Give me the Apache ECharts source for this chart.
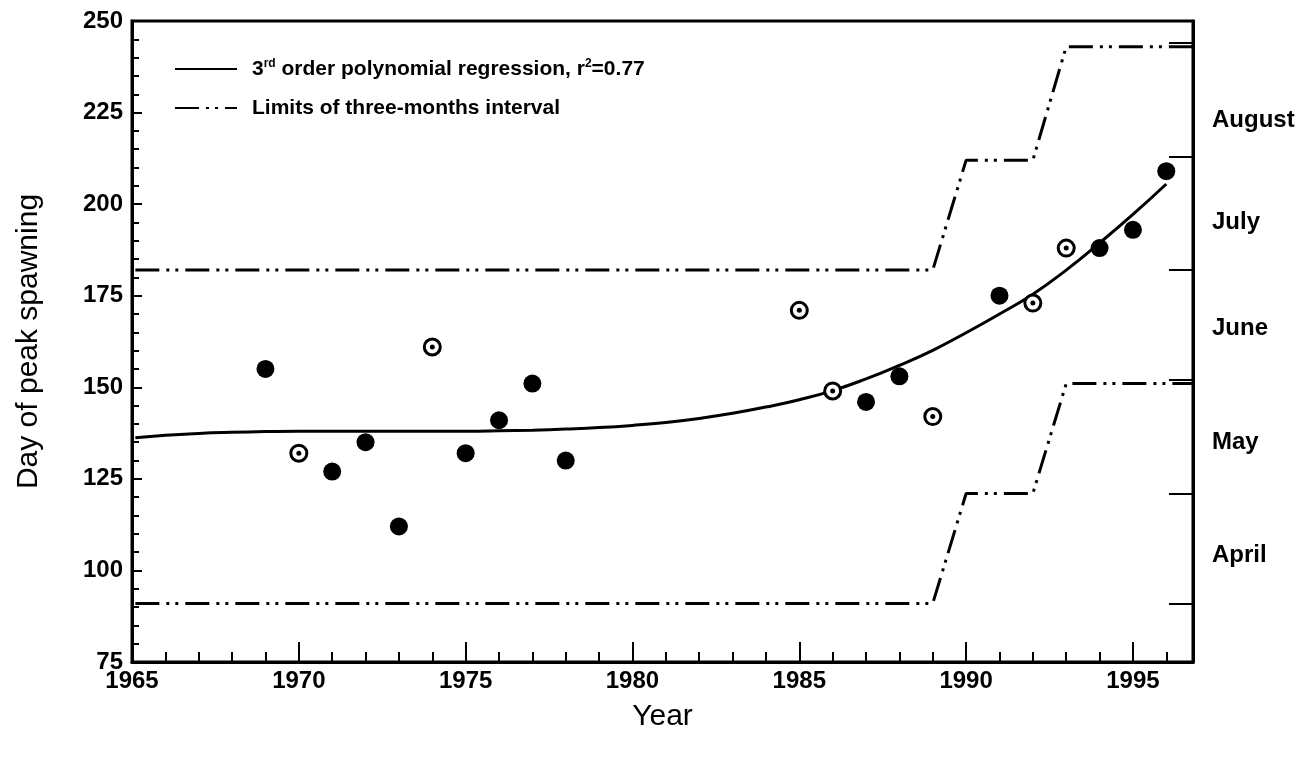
<!DOCTYPE html>
<html>
<head>
<meta charset="utf-8">
<script src="https://cdn.jsdelivr.net/npm/echarts@6.0.0/dist/echarts.min.js"></script>
<style>
  html, body { margin: 0; padding: 0; background: #fff; }
  #chart { width: 1315px; height: 760px; }
</style>
</head>
<body>
<div id="chart"></div>
<script>
// filled circles
const filledYears = [1969, 1971, 1972, 1973, 1975, 1976, 1977, 1978, 1987, 1988, 1991, 1994, 1995, 1996]
const filledDays = [155, 127, 135, 112, 132, 141, 151, 130, 146, 153, 175, 188, 193, 209]

// open circles (dotted centre)
const openYears = [1970, 1974, 1985, 1986, 1989, 1992, 1993]
const openDays = [132, 161, 171, 149, 142, 173, 188]

// regression curve
const fitYears = [1965.1, 1966, 1967, 1968, 1969, 1970, 1971, 1972, 1973, 1974, 1975, 1976, 1977, 1978, 1979, 1980,
  1981, 1982, 1983, 1984, 1985, 1986, 1987, 1988, 1989, 1990, 1991, 1992, 1993, 1994, 1995, 1996]
const fitDays = [136.2, 136.9, 137.4, 137.7, 137.9, 138.0, 138.0, 138.0, 138.0, 138.0, 138.0, 138.1, 138.3, 138.6, 139.0, 139.6,
  140.4, 141.5, 142.9, 144.6, 146.6, 149.1, 152.3, 156.0, 160.1, 164.9, 170.0, 175.4, 182.0, 189.4, 197.2, 205.5]

// three-months interval limits
const limitYears = [1965.1, 1989, 1990, 1992, 1993, 1996.8]
const upperDays = [182, 182, 212, 212, 243, 243]
const lowerDays = [91, 91, 121, 121, 151, 151]

// axis ticks
const majorYears = [1965, 1970, 1975, 1980, 1985, 1990, 1995]
const allYears = [1966, 1967, 1968, 1969, 1971, 1972, 1973, 1974, 1976, 1977, 1978, 1979, 1981, 1982, 1983, 1984,
  1986, 1987, 1988, 1989, 1991, 1992, 1993, 1994, 1996]
const monthStarts = [91, 121, 152, 182, 213, 244]
const monthNames = ['April', 'May', 'June', 'July', 'August']
const monthLabelDays = [104, 135, 166, 195, 223]

const FIT_NAME = '3rd order polynomial regression, r2=0.77'
const LIMIT_NAME = 'Limits of three-months interval'
const FONT = '"Liberation Sans", Arial, sans-serif'

const pairs = (xs, ys) => xs.map((x, i) => [x, ys[i]])

const chart = echarts.init(document.getElementById('chart'))

const limitLine = {
  color: '#000',
  width: 3,
  type: [24, 7, 3, 6, 3, 7]
}

chart.setOption({
  animation: false,
  backgroundColor: '#fff',
  textStyle: { fontFamily: FONT, color: '#000' },
  grid: {
    left: 132,
    right: 122,
    top: 21,
    bottom: 98,
    show: true,
    borderColor: '#000',
    borderWidth: 3
  },
  legend: {
    data: [FIT_NAME, LIMIT_NAME],
    orient: 'vertical',
    left: 169,
    top: 53,
    itemGap: 18,
    itemWidth: 62,
    itemHeight: 14,
    itemStyle: { opacity: 0 },
    formatter: name => name === FIT_NAME
      ? '3{sup|rd} order polynomial regression, r{sup|2}=0.77'
      : name,
    textStyle: {
      fontFamily: FONT,
      fontSize: 21,
      fontWeight: 'bold',
      color: '#000',
      padding: [0, 0, 0, 10],
      rich: {
        sup: { fontSize: 12, fontWeight: 'bold', verticalAlign: 'top', padding: [0, 0, 10, 0] }
      }
    }
  },
  xAxis: [
    {
      type: 'value',
      min: 1965,
      max: 1996.8,
      position: 'bottom',
      name: 'Year',
      nameLocation: 'middle',
      nameGap: 40,
      nameTextStyle: { fontSize: 30, color: '#000', fontFamily: FONT },
      axisLine: { show: true, lineStyle: { color: '#000', width: 3 } },
      axisTick: { inside: true, length: 20, customValues: majorYears, lineStyle: { color: '#000', width: 2 } },
      axisLabel: {
        customValues: majorYears,
        formatter: v => String(v),
        fontSize: 24,
        fontWeight: 'bold',
        color: '#000',
        margin: 7
      },
      splitLine: { show: false }
    },
    {
      type: 'value',
      min: 1965,
      max: 1996.8,
      position: 'bottom',
      axisLine: { show: false },
      axisTick: { inside: true, length: 10, customValues: allYears, lineStyle: { color: '#000', width: 2 } },
      axisLabel: { show: false },
      splitLine: { show: false }
    }
  ],
  yAxis: [
    {
      type: 'value',
      min: 75,
      max: 250,
      interval: 25,
      position: 'left',
      name: 'Day of peak spawning',
      nameLocation: 'middle',
      nameGap: 88,
      nameRotate: 90,
      nameTextStyle: { fontSize: 30, color: '#000', fontFamily: FONT },
      axisLine: { show: true, lineStyle: { color: '#000', width: 3 } },
      axisTick: { inside: true, length: 10, lineStyle: { color: '#000', width: 2 } },
      minorTick: { show: true, splitNumber: 5, length: 7, lineStyle: { color: '#000', width: 2 } },
      axisLabel: { fontSize: 24, fontWeight: 'bold', color: '#000', margin: 9 },
      splitLine: { show: false }
    },
    {
      type: 'value',
      min: 75,
      max: 250,
      position: 'right',
      axisLine: { show: true, lineStyle: { color: '#000', width: 3 } },
      axisTick: { inside: true, length: 24, customValues: monthStarts, lineStyle: { color: '#000', width: 2 } },
      axisLabel: {
        customValues: monthLabelDays,
        formatter: v => monthNames[monthLabelDays.indexOf(v)] || '',
        fontSize: 24,
        fontWeight: 'bold',
        color: '#000',
        margin: 19
      },
      splitLine: { show: false }
    }
  ],
  series: [
    {
      name: LIMIT_NAME,
      type: 'line',
      data: pairs(limitYears, upperDays),
      symbol: 'none',
      lineStyle: limitLine,
      itemStyle: { color: '#000' },
      z: 2
    },
    {
      name: LIMIT_NAME,
      type: 'line',
      data: pairs(limitYears, lowerDays),
      symbol: 'none',
      lineStyle: limitLine,
      itemStyle: { color: '#000' },
      z: 2
    },
    {
      name: FIT_NAME,
      type: 'line',
      data: pairs(fitYears, fitDays),
      smooth: true,
      symbol: 'none',
      lineStyle: { color: '#000', width: 3 },
      itemStyle: { color: '#000' },
      z: 3
    },
    {
      name: 'filled',
      type: 'scatter',
      data: pairs(filledYears, filledDays),
      symbolSize: 18,
      itemStyle: { color: '#000', opacity: 1 },
      z: 4
    },
    {
      name: 'open',
      type: 'scatter',
      data: pairs(openYears, openDays),
      symbolSize: 16,
      itemStyle: { color: '#fff', borderColor: '#000', borderWidth: 3, opacity: 1 },
      z: 4
    },
    {
      name: 'open centre',
      type: 'scatter',
      data: pairs(openYears, openDays),
      symbolSize: 5,
      itemStyle: { color: '#000', opacity: 1 },
      z: 5
    }
  ]
})

window.addEventListener('resize', () => chart.resize())
</script>
</body>
</html>
